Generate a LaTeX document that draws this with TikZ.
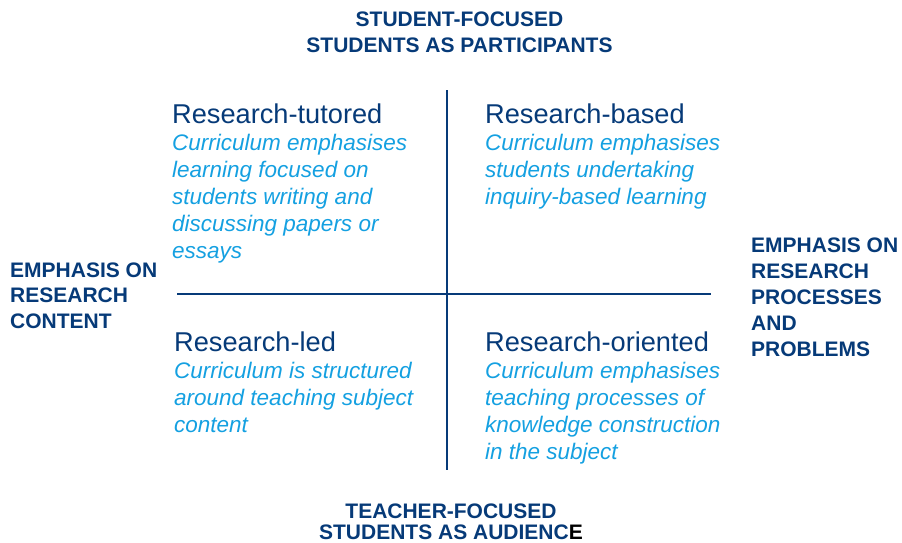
\documentclass[tikz,border=0pt]{standalone}
\usepackage{fontspec}
\setmainfont{Liberation Sans}
\definecolor{navy}{RGB}{6,58,120}
\definecolor{skyb}{RGB}{20,160,225}
\begin{document}
\begin{tikzpicture}[x=1pt,y=-1pt,
  axis/.style={draw=navy,line width=2.4pt},
  lab/.style={inner sep=0pt,text=navy,font=\fontsize{21}{25.5}\selectfont\bfseries},
  head/.style={inner sep=0pt,anchor=base west,text=navy,font=\fontsize{27.2}{27}\selectfont},
  desc/.style={inner sep=0pt,anchor=base west,align=left,text=skyb,font=\fontsize{22.5}{27}\selectfont\itshape}]
\useasboundingbox (0,0) rectangle (902,542);
\coordinate (vt) at (447,90);
\coordinate (vb) at (447,470);
\coordinate (hl) at (177,294);
\coordinate (hr) at (711,294);
\draw[axis] (vt) -- (vb);
\draw[axis] (hl) -- (hr);
\node[lab,anchor=base,align=center] (top) at (459.5,52) {STUDENT-FOCUSED\\STUDENTS AS PARTICIPANTS};
\node[lab,anchor=base,align=center,font=\fontsize{21}{21}\selectfont\bfseries] (bot) at (451,539.5) {TEACHER-FOCUSED\\STUDENTS AS AUDIENC\textcolor{black}{E}};
\node[lab,anchor=base west,align=left] (left) at (10,328) {EMPHASIS ON\\RESEARCH\\CONTENT};
\node[lab,anchor=base west,align=left,font=\fontsize{21}{26}\selectfont\bfseries] (right) at (751,356) {EMPHASIS ON\\RESEARCH\\PROCESSES\\AND\\PROBLEMS};
\node[head] (tlh) at (172,123) {Research-tutored};
\node[desc] (tld) at (172,258) {Curriculum emphasises\\learning focused on\\students writing and\\discussing papers or\\essays};
\node[head] (trh) at (485,123) {Research-based};
\node[desc] (trd) at (485,204) {Curriculum emphasises\\students undertaking\\inquiry-based learning};
\node[head] (blh) at (174,351) {Research-led};
\node[desc] (bld) at (174,432) {Curriculum is structured\\around teaching subject\\content};
\node[head] (brh) at (485,351) {Research-oriented};
\node[desc] (brd) at (485,459) {Curriculum emphasises\\teaching processes of\\knowledge construction\\in the subject};
\end{tikzpicture}
\end{document}
